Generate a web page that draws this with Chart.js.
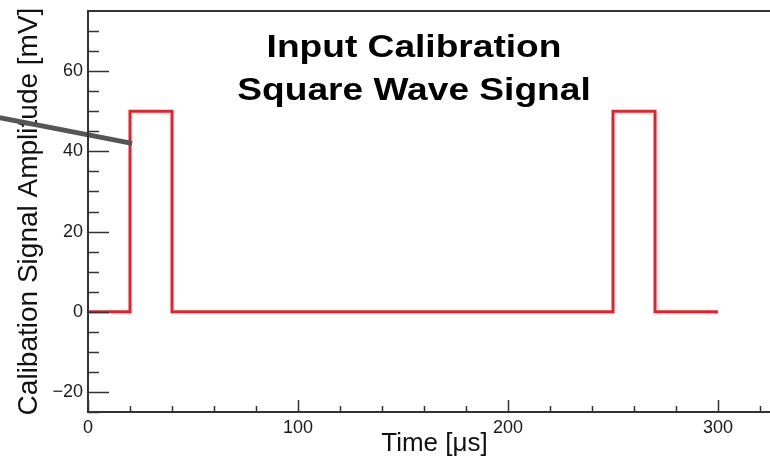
<!DOCTYPE html>
<html>
<head>
<meta charset="utf-8">
<script src="https://cdn.jsdelivr.net/npm/chart.js@4"></script>
<style>
  body { margin: 0; background: #fff; }
  #wrap { width: 770px; height: 464px; overflow: hidden; }
</style>
</head>
<body>
<div id="wrap"><canvas id="myCanvas" width="800" height="464"></canvas></div>
<script>
// data
const times = [0, 20, 20, 40, 40, 250, 250, 270, 270, 300];      // us
const amplitudes = [0, 0, 50, 50, 0, 0, 50, 50, 0, 0];           // mV
const xTickValues = [0, 100, 200, 300];
const yTickValues = [-20, 0, 20, 40, 60];
const titleLines = ["Input Calibration", "Square Wave Signal"];
const xLabel = "Time [\u03bcs]";
const yLabel = "Calibation Signal Amplitude [mV]";
// grey pointer line that comes in from the left (axis units)
const pointerX = [-44, 21];
const pointerY = [48.6, 42];

const font = "'Liberation Sans', Arial, Helvetica, sans-serif";

// ROOT style frame + inward ticks + the big title
const rootFrame = {
  id: "rootFrame",
  afterDatasetsDraw(chart) {
    const c = chart.ctx;
    const xs = chart.scales.x, ys = chart.scales.y;
    c.save();
    c.strokeStyle = "#555";
    c.lineWidth = 5;
    c.beginPath();
    c.moveTo(xs.getPixelForValue(pointerX[0]), ys.getPixelForValue(pointerY[0]));
    c.lineTo(xs.getPixelForValue(pointerX[1]), ys.getPixelForValue(pointerY[1]));
    c.stroke();
    c.restore();
  },
  afterDraw(chart) {
    const c = chart.ctx;
    const a = chart.chartArea;
    const xs = chart.scales.x, ys = chart.scales.y;
    c.save();
    c.strokeStyle = "#333";
    c.lineWidth = 2;
    c.strokeRect(a.left, a.top, a.right - a.left, a.bottom - a.top);

    c.lineWidth = 1.5;
    c.beginPath();
    for (let v = xs.min; v <= xs.max; v += 20) {
      const px = Math.round(xs.getPixelForValue(v)) + 0.5;
      const len = v % 100 === 0 ? 12 : 6;
      c.moveTo(px, a.bottom);
      c.lineTo(px, a.bottom - len);
    }
    for (let v = -25; v < ys.max; v += 5) {
      const py = Math.round(ys.getPixelForValue(v)) + 0.5;
      const len = v % 20 === 0 ? 21 : 11;
      c.moveTo(a.left, py);
      c.lineTo(a.left + len, py);
    }
    c.stroke();

    // title, stretched sideways like the original
    c.fillStyle = "#000";
    c.font = "bold 32px " + font;
    c.textAlign = "center";
    c.textBaseline = "alphabetic";
    const baselines = [57, 100];
    titleLines.forEach((t, i) => {
      c.save();
      c.translate(414, baselines[i]);
      c.scale(1.16, 1);
      c.fillText(t, 0, 0);
      c.restore();
    });
    c.restore();
  }
};

const ctx = document.getElementById("myCanvas").getContext("2d");

const myChart = new Chart(ctx, {
  type: "line",
  data: {
    datasets: [
      {
        data: times.map((t, i) => ({ x: t, y: amplitudes[i] })),
        borderColor: "#e8202a",
        borderWidth: 3,
        pointRadius: 0,
        tension: 0,
        fill: false
      }
    ]
  },
  options: {
    responsive: false,
    animation: false,
    layout: { padding: { top: 11, right: 19, left: 0, bottom: 0 } },
    plugins: { legend: { display: false }, tooltip: { enabled: false } },
    scales: {
      x: {
        type: "linear",
        min: 0,
        max: 330,
        grid: { display: false, drawTicks: false },
        border: { display: false },
        afterBuildTicks(scale) { scale.ticks = xTickValues.map(v => ({ value: v })); },
        ticks: {
          maxRotation: 0,
          padding: 5,
          color: "#1a1a1a",
          font: { family: font, size: 18 }
        },
        title: {
          display: true,
          text: xLabel,
          color: "#111",
          font: { family: font, size: 26 },
          padding: { top: 0, bottom: 5 }
        },
        afterFit(scale) {
          scale.height = 52;
          scale.paddingLeft = 0;
          scale.paddingRight = 0;
        }
      },
      y: {
        min: -25,
        max: 75,
        grid: { display: false, drawTicks: false },
        border: { display: false },
        afterBuildTicks(scale) { scale.ticks = yTickValues.map(v => ({ value: v })); },
        ticks: {
          padding: 5,
          color: "#1a1a1a",
          font: { family: font, size: 18 },
          callback: v => String(v).replace("-", "\u2212")
        },
        title: {
          display: true,
          text: yLabel,
          color: "#111",
          font: { family: font, size: 28 },
          padding: { top: 12, bottom: 0 }
        },
        afterFit(scale) {
          scale.width = 88;
          scale.paddingTop = 0;
          scale.paddingBottom = 0;
        }
      }
    }
  },
  plugins: [rootFrame]
});
</script>
</body>
</html>
